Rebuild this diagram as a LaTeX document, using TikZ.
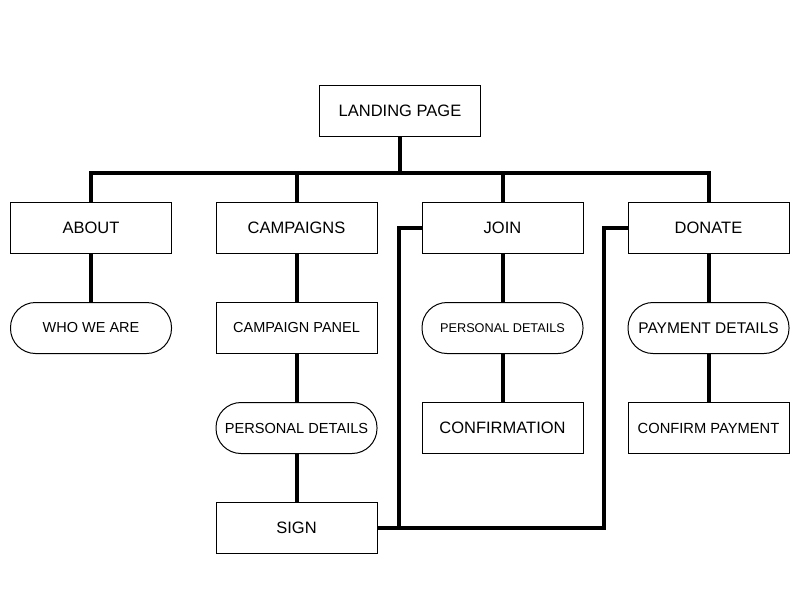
\documentclass[tikz,border=0pt]{standalone}
\usepackage{fontspec}
\setmainfont{Liberation Sans}
\newcommand{\fs}[1]{\fontsize{#1}{#1}\selectfont}

\begin{document}
\begin{tikzpicture}[x=1pt,y=-1pt,
                box/.style={draw,line width=1pt,minimum width=161pt,minimum height=51pt,inner sep=0pt,font=\fs{16.5}},
                pill/.style={box,rounded corners=25pt},
                link/.style={line width=4pt}]
                \useasboundingbox (0,0) rectangle (800,595);

                \node[box] (landing) at (400,111) {LANDING PAGE};
                \node[box] (about) at (91,228) {ABOUT};
                \node[box] (campaigns) at (296.5,228) {CAMPAIGNS};
                \node[box] (join) at (502.5,228) {JOIN};
                \node[box] (donate) at (708.5,228) {DONATE};

                \node[pill,font=\fs{14.5}] (who) at (91,328) {WHO WE ARE};
                \node[box,font=\fs{14.5}] (panel) at (296.5,328) {CAMPAIGN PANEL};
                \node[pill,font=\fs{12.7}] (joindetails) at (502.5,328) {PERSONAL DETAILS};
                \node[pill,font=\fs{15.5}] (payment) at (708.5,328) {PAYMENT DETAILS};

                \node[pill,font=\fs{14.6}] (details) at (296.5,428) {PERSONAL DETAILS};
                \node[box] (confirmation) at (502.5,428) {CONFIRMATION};
                \node[box,font=\fs{14.7}] (confirmpay) at (708.5,428) {CONFIRM PAYMENT};

                \node[box] (sign) at (296.5,528) {SIGN};

                \coordinate (bus) at (400,173);
                \draw[link] (landing.south) -- (bus);
                \draw[link] (about.north) |- (bus) -| (donate.north);
                \draw[link] (campaigns.north) -- (campaigns.north |- bus);
                \draw[link] (join.north) -- (join.north |- bus);

                \draw[link] (about) -- (who);
                \draw[link] (campaigns) -- (panel) -- (details) -- (sign);
                \draw[link] (join) -- (joindetails) -- (confirmation);
                \draw[link] (donate) -- (payment) -- (confirmpay);

                \draw[link] (join.west) -- ++(-23,0) |- (sign.east);
                \draw[link] (donate.west) -- ++(-24,0) |- (sign.east);
            \end{tikzpicture}
\end{document}
